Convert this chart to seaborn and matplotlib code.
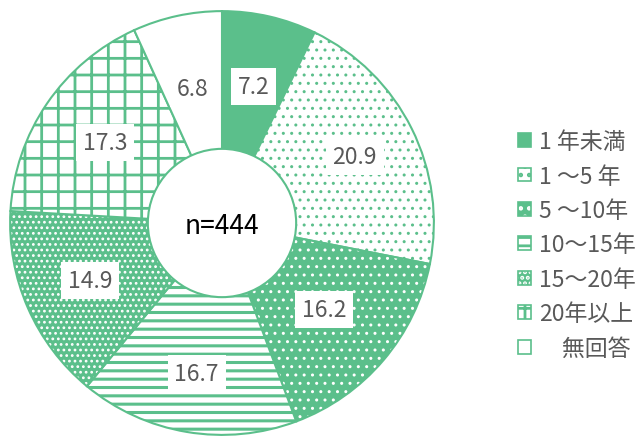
import matplotlib
matplotlib.use('Agg')
import matplotlib.pyplot as plt
import numpy as np
import seaborn as sns
from matplotlib.patches import Patch, Circle
from matplotlib.colors import to_rgba

sns.set_theme(style='white')
plt.rcParams['font.family'] = ['Noto Sans CJK JP', 'DejaVu Sans']
plt.rcParams['hatch.linewidth'] = 2.0

# Data
categories = ['1 年未満', '1 ～5 年', '5 ～10年', '10～15年', '15～20年', '20年以上', '　無回答']
values = [7.2, 20.9, 16.2, 16.7, 14.9, 17.3, 6.8]
n_label = 'n=444'

green = '#5bbf8b'
white = '#ffffff'
# face colour, hatch pattern, hatch colour, hatch line width for each slice
faces = [green, white, green, white, green, white, white]
hatches = [None, '..', '..', '--', '...', '+', None]
hatch_cols = [green, green, white, green, white, green, green]
hatch_lws = [1.0, 1.0, 1.0, 2.2, 1.2, 2.0, 1.0]
# radial position of the value labels (fraction of the radius)
label_r = [0.66, 0.70, 0.63, 0.72, 0.68, 0.67, 0.65]


def style_patch(p, h, hc, lw):
    if h:
        p.set_hatch(h)
        p._hatch_color = to_rgba(hc)
        if hasattr(p, 'set_hatch_linewidth'):
            p.set_hatch_linewidth(lw)


fig = plt.figure(figsize=(6.41, 4.39), dpi=100)
cx, cy, r = 222, 224, 214
ax = fig.add_axes([(cx - r) / 641, (439 - cy - r) / 439, 2 * r / 641, 2 * r / 439])

wedges, _ = ax.pie(values, startangle=90, counterclock=False, radius=1,
                   colors=faces,
                   wedgeprops=dict(edgecolor=green, linewidth=1.5))
for w, h, hc, lw in zip(wedges, hatches, hatch_cols, hatch_lws):
    style_patch(w, h, hc, lw)

# donut hole
ax.add_patch(Circle((0, 0), 0.35, facecolor='white', edgecolor=green,
                    linewidth=1.5, zorder=5))
ax.text(0, -0.01, n_label, ha='center', va='center', fontsize=19,
        color='black', zorder=6)

# value labels
angle = 90.0
for v, lr in zip(values, label_r):
    mid = angle - v * 3.6 / 2
    angle -= v * 3.6
    x = lr * np.cos(np.deg2rad(mid))
    y = lr * np.sin(np.deg2rad(mid))
    ax.text(x, y, f'{v:.1f}', ha='center', va='center', fontsize=16.5,
            color='#595959', zorder=7,
            bbox=dict(boxstyle='square,pad=0.3', facecolor='white',
                      edgecolor='none'))

ax.set_xlim(-1.01, 1.01)
ax.set_ylim(-1.01, 1.01)
ax.set_aspect('equal')
ax.axis('off')

handles = []
for f, h, hc, lw in zip(faces, hatches, hatch_cols, hatch_lws):
    p = Patch(facecolor=f, edgecolor=green, linewidth=1.2)
    style_patch(p, h, hc, lw)
    handles.append(p)

fig.legend(handles, categories, loc='center left',
           bbox_to_anchor=(507 / 641, 1 - 246 / 439), frameon=False,
           fontsize=16.5, handlelength=0.55, handleheight=0.55,
           handletextpad=0.35, labelspacing=0.5, borderpad=0,
           labelcolor='#595959')

fig.savefig('out.png', dpi=100)
